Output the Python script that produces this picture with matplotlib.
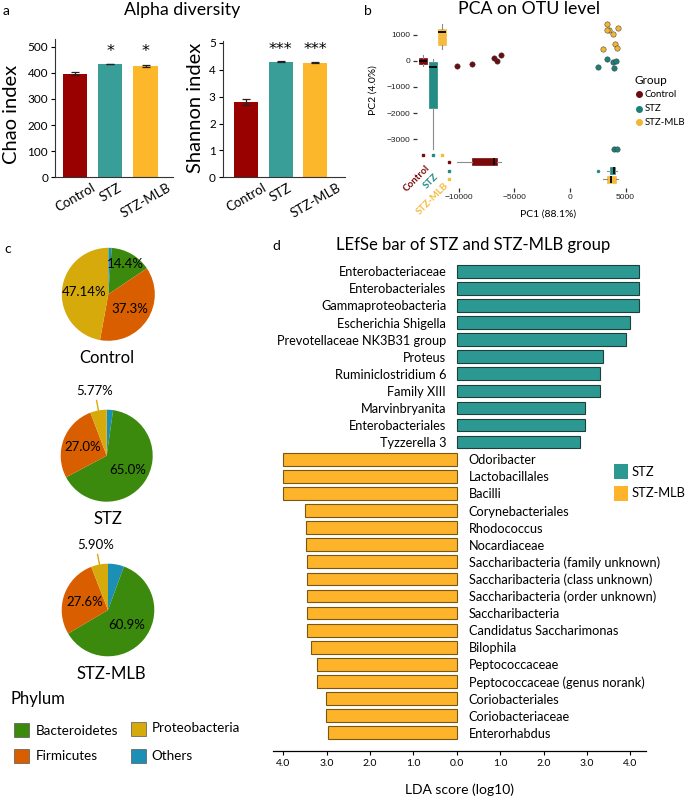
import matplotlib
matplotlib.use('Agg')
import matplotlib.pyplot as plt
from matplotlib.patches import Rectangle
import numpy as np

plt.rcParams['font.family'] = ['Lato', 'DejaVu Sans']

W, H = 685, 799

# ---- panel a: alpha diversity
groups = ['Control', 'STZ', 'STZ-MLB']
chao = [397, 433, 427]
chao_err = [7, 1, 4]
chao_sig = ['', '*', '*']
shannon = [2.81, 4.30, 4.26]
shannon_err = [0.12, 0.02, 0.02]
shannon_sig = ['', '***', '***']
bar_colors = ['#990000', '#3a9e98', '#fcb72b']

# ---- panel b: PCA scores
ctrl_pc1 = [-10150, -8830, -6880, -6550, -6190]
ctrl_pc2 = [-220, -130, 90, 0, 220]
stz_pc1 = [3310, 3850, 4140, 2550, 3990, 3960, 4260]
stz_pc2 = [53, -50, -23, -250, -270, -3380, -3370]
mlb_pc1 = [3360, 3540, 3310, 4300, 3850, 4080, 4210, 3000]
mlb_pc2 = [1390, 1170, 1170, 1260, 1010, 630, 500, 435]
pca_colors = ['#6e0b12', '#1b807a', '#f2b534']
box_colors = ['#7a0a0a', '#248b85', '#f6bb3e']

# ---- panel c: phylum composition
phyla = ['Others', 'Bacteroidetes', 'Firmicutes', 'Proteobacteria']
phylum_colors = ['#1c8fb4', '#3b8a0e', '#d85e00', '#d6aa0b']
pie_names = ['Control', 'STZ', 'STZ-MLB']
pie_values = [[1.16, 14.4, 37.3, 47.14],
              [2.23, 65.0, 27.0, 5.77],
              [5.6, 60.9, 27.6, 5.90]]
pie_texts = [['', '14.4%', '37.3%', '47.14%'],
             ['', '65.0%', '27.0%', '5.77%'],
             ['', '60.9%', '27.6%', '5.90%']]

# ---- panel d: LEfSe
stz_taxa = ['Enterobacteriaceae', 'Enterobacteriales', 'Gammaproteobacteria',
            'Escherichia Shigella', 'Prevotellaceae NK3B31 group', 'Proteus',
            'Ruminiclostridium 6', 'Family XIII', 'Marvinbryanita',
            'Enterobacteriales', 'Tyzzerella 3']
stz_lda = [4.21, 4.21, 4.21, 3.99, 3.89, 3.38, 3.31, 3.29, 2.95, 2.95, 2.85]
mlb_taxa = ['Odoribacter', 'Lactobacillales', 'Bacilli', 'Corynebacteriales',
            'Rhodococcus', 'Nocardiaceae', 'Saccharibacteria (family unknown)',
            'Saccharibacteria (class unknown)', 'Saccharibacteria (order unknown)',
            'Saccharibacteria', 'Candidatus Saccharimonas', 'Bilophila',
            'Peptococcaceae', 'Peptococcaceae (genus norank)', 'Coriobacteriales',
            'Coriobacteriaceae', 'Enterorhabdus']
mlb_lda = [4.01, 4.01, 4.01, 3.51, 3.48, 3.48, 3.45, 3.45, 3.45, 3.45, 3.45,
           3.37, 3.23, 3.22, 3.01, 3.01, 2.98]
lefse_colors = ['#2b9992', '#fdb42a']


fig = plt.figure(figsize=(W / 100, H / 100), dpi=100)


def px_axes(l, t, r, b):
    return fig.add_axes([l / W, 1 - b / H, (r - l) / W, (b - t) / H])


# overlay in pixel coordinates for free text and legends
ov = px_axes(0, 0, W, H)
ov.set_xlim(0, W)
ov.set_ylim(H, 0)
ov.axis('off')
ov.patch.set_visible(False)

# ================= a =================
def alpha_bars(ax, vals, errs, sig, ymax, ticks, xlim, star_y):
    x = np.arange(len(vals))
    ax.bar(x, vals, width=0.69, color=bar_colors, yerr=errs, capsize=3,
           error_kw=dict(ecolor='#222222', elinewidth=0.9, capthick=0.9))
    for xi, s in zip(x, sig):
        if s:
            ax.text(xi, star_y, s, ha='center', va='center', fontsize=11.5,
                    family=['DejaVu Sans'])
    ax.set_ylim(0, ymax)
    ax.set_xlim(*xlim)
    ax.set_yticks(ticks)
    ax.set_xticks(x)
    ax.set_xticklabels(groups, rotation=30, ha='center', fontsize=9.5)
    ax.tick_params(axis='x', length=0, pad=3)
    ax.tick_params(axis='y', length=3, labelsize=8.5, pad=2)
    for s in ['top', 'right']:
        ax.spines[s].set_visible(False)
    for s in ['left', 'bottom']:
        ax.spines[s].set_linewidth(0.8)
        ax.spines[s].set_color('#333333')


ax_chao = px_axes(55, 39.3, 173, 177.3)
alpha_bars(ax_chao, chao, chao_err, chao_sig, 528, range(0, 501, 100),
           (-0.57, 2.78), 481)
ax_sh = px_axes(222.7, 40.7, 345, 177.3)
alpha_bars(ax_sh, shannon, shannon_err, shannon_sig, 5.08, range(0, 6),
           (-0.67, 2.85), 4.77)

ov.text(12, 114, 'Chao index', rotation=90, ha='center', va='center', fontsize=14.5)
ov.text(196, 108, 'Shannon index', rotation=90, ha='center', va='center', fontsize=14.5)
ov.text(182, 9.5, 'Alpha diversity', ha='center', va='center', fontsize=12.8)
ov.text(3, 11, 'a', ha='left', va='center', fontsize=10)

# ================= b =================
ax = px_axes(417, 18, 630, 188)
pc1_sets = [ctrl_pc1, stz_pc1, mlb_pc1]
pc2_sets = [ctrl_pc2, stz_pc2, mlb_pc2]
box_x = [-13220, -12370, -11530]
box_y = [-3855, -4200, -4527]
for i in range(3):
    c = box_colors[i]
    common = dict(patch_artist=True, showcaps=False, manage_ticks=False,
                  boxprops=dict(facecolor=c, edgecolor=c, linewidth=0.5),
                  medianprops=dict(color='black', linewidth=1.3),
                  whiskerprops=dict(color='#8c8c8c', linewidth=0.8),
                  flierprops=dict(marker='o', markersize=1.5,
                                  markerfacecolor=c, markeredgecolor=c))
    ax.boxplot([pc2_sets[i]], positions=[box_x[i]], widths=720, **common)
    ax.boxplot([pc1_sets[i]], positions=[box_y[i]], widths=267,
               orientation='horizontal', **common)
    ax.scatter(pc1_sets[i], pc2_sets[i], s=15, color=pca_colors[i],
               edgecolors='#3a3a3a', linewidths=0.35, zorder=5)
    ax.plot(box_x[i], -3600, marker='s', ms=1.6, color=box_colors[i], zorder=5)
    ax.plot(-10900, box_y[i], marker='s', ms=1.6, color=box_colors[i], zorder=5)
    ax.text(box_x[i] + 150, box_y[i] - 60, groups[i], rotation=45, ha='right',
            va='top', rotation_mode='anchor', color=box_colors[i], fontsize=7,
            fontweight='bold')
ax.set_xlim(-13780, 5405)
ax.set_ylim(-4859, 1630)
ax.set_xticks([-10000, -5000, 0, 5000])
ax.set_yticks([1000, 0, -1000, -2000, -3000])
ax.tick_params(length=3, width=0.9, color='#333333', labelsize=6, pad=1.5,
               labelcolor='#222222')
for lab in ax.get_xticklabels() + ax.get_yticklabels():
    lab.set_family(['Liberation Sans', 'DejaVu Sans'])
for s in ax.spines.values():
    s.set_visible(False)
ax.patch.set_visible(False)

ov.text(548.5, 214, 'PC1 (88.1%)', ha='center', va='center', fontsize=7.5)
ov.text(373, 90, 'PC2 (4.0%)', rotation=90, ha='center', va='center', fontsize=7.5)
ov.text(528.7, 9, 'PCA on OTU level', ha='center', va='center', fontsize=12.8)
ov.text(368, 11, 'b', ha='center', va='center', fontsize=10)
ov.text(635, 80, 'Group', ha='left', va='center', fontsize=8.5)
for i, g in enumerate(groups):
    yy = [94.3, 108.7, 122.3][i]
    ov.plot(638.7, yy, 'o', ms=4, color=pca_colors[i])
    ov.text(644.3, yy, g, ha='left', va='center', fontsize=7)

# ================= c =================
pie_centers = [(108.3, 294.3, 46.5), (106.7, 455.7, 46), (108, 610, 46.3)]
label_dist = [[0, 0.75, 0.56, 0.52], [0, 0.55, 0.55, 0], [0, 0.52, 0.53, 0]]
title_pos = [(106.7, 358.3), (108, 519), (111.7, 674)]
for k in range(3):
    cx, cy, r = pie_centers[k]
    pax = px_axes(cx - r, cy - r, cx + r, cy + r)
    wedges, _ = pax.pie(pie_values[k], colors=phylum_colors, startangle=90,
                        counterclock=False, radius=1,
                        wedgeprops=dict(linewidth=0))
    pax.set_xlim(-1, 1)
    pax.set_ylim(-1, 1)
    pax.axis('off')
    for j, w in enumerate(wedges):
        txt = pie_texts[k][j]
        if not txt:
            continue
        mid = np.deg2rad((w.theta1 + w.theta2) / 2)
        d = label_dist[k][j]
        if d > 0:
            pax.text(d * np.cos(mid), d * np.sin(mid), txt, ha='center',
                     va='center', fontsize=9.5)
        else:
            pax.plot([np.cos(mid), 1.22 * np.cos(mid)],
                     [np.sin(mid), 1.22 * np.sin(mid)],
                     color=phylum_colors[j], lw=1, clip_on=False)
            pax.text(1.45 * np.cos(mid), 1.42 * np.sin(mid), txt, ha='center',
                     va='center', fontsize=9.5, clip_on=False)
    ov.text(title_pos[k][0], title_pos[k][1], pie_names[k], ha='center',
            va='center', fontsize=12)

ov.text(4, 249, 'c', ha='left', va='center', fontsize=10)
ov.text(10.7, 699, 'Phylum', ha='left', va='center', fontsize=12)
legend_order = [1, 2, 3, 0]
legend_pos = [(14, 723, 35.7, 730.7), (14, 749, 35.7, 755.7),
              (131, 722, 151.7, 728.3), (131, 749, 151.7, 755.7)]
for (sx, sy, tx, ty), j in zip(legend_pos, legend_order):
    ov.add_patch(Rectangle((sx, sy), 15, 14, facecolor=phylum_colors[j],
                           edgecolor='#555555', linewidth=0.5))
    ov.text(tx, ty, phyla[j], ha='left', va='center', fontsize=9.7)

# ================= d =================
ax = px_axes(273.3, 262, 646, 750.7)
y1 = np.arange(len(stz_taxa))
y2 = np.arange(len(mlb_taxa)) + len(stz_taxa)
ax.barh(y1, stz_lda, height=0.74, color=lefse_colors[0], edgecolor='#1d3f3d',
        linewidth=0.8)
ax.barh(y2, -np.array(mlb_lda), height=0.74, color=lefse_colors[1],
        edgecolor='#7a5812', linewidth=0.8)
for y, t in zip(y1, stz_taxa):
    ax.text(-0.245, y, t, ha='right', va='center_baseline', fontsize=9.2)
for y, t in zip(y2, mlb_taxa):
    ax.text(0.277, y, t, ha='left', va='center_baseline', fontsize=9.2)
ax.set_xlim(-4.23, 4.36)
ax.set_ylim(28.05, -0.54)
ticks = np.arange(-4, 5)
ax.set_xticks(ticks)
ax.set_xticklabels([f'{abs(t):.1f}' for t in ticks])
ax.set_yticks([])
ax.tick_params(axis='x', length=3, width=0.8, labelsize=7.5, pad=3)
for s in ['top', 'right', 'left']:
    ax.spines[s].set_visible(False)
ax.spines['bottom'].set_linewidth(0.9)
ax.patch.set_visible(False)

ov.text(473.3, 245, 'LEfSe bar of STZ and STZ-MLB group', ha='center',
        va='center', fontsize=12)
ov.text(276, 246, 'd', ha='center', va='center', fontsize=10)
ov.text(459.3, 790, 'LDA score (log10)', ha='center', va='center', fontsize=10)
for (yy, ty), lab, c in zip([(464.3, 471.7), (486, 493.3)], ['STZ', 'STZ-MLB'],
                            lefse_colors):
    ov.add_patch(Rectangle((614, yy), 14.3, 14.7, facecolor=c, edgecolor='none'))
    ov.text(631.3, ty, lab, ha='left', va='center', fontsize=9.3)

fig.savefig('out.png', dpi=100)
